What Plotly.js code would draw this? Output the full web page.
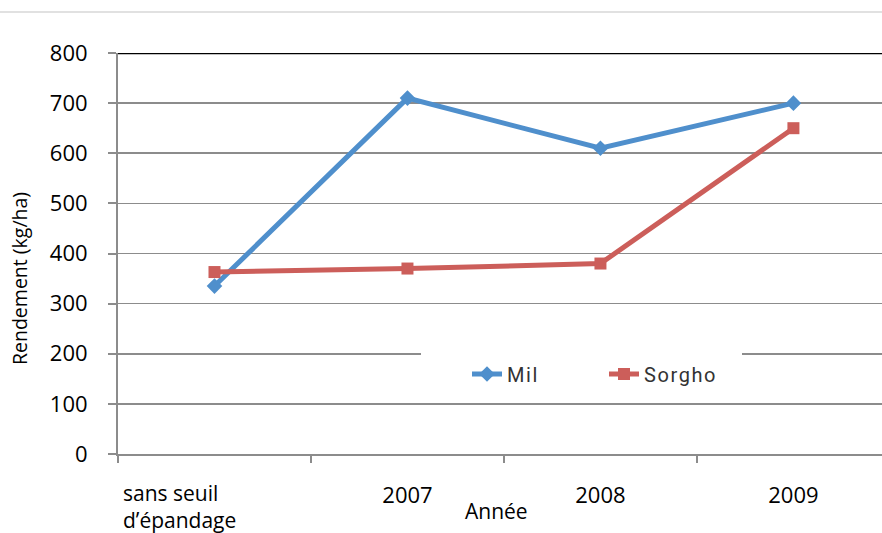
<!DOCTYPE html>
<html>
<head>
<meta charset="utf-8">
<script src="https://cdn.plot.ly/plotly-3.0.1.min.js"></script>
<style>
html,body{margin:0;padding:0;background:#fff;overflow:hidden;}
.legend .legendtext{letter-spacing:1.6px;}
</style>
</head>
<body>
<div id="chart" style="width:882px;height:533px;"></div>
<script>
const categories = ["sans seuil d’épandage", "2007", "2008", "2009"];
const tickLabels = ["", "2007", "2008", "2009"];
const firstLabel = "sans seuil<br>d’épandage";
const mil = [335, 710, 610, 700];
const sorgho = [363, 370, 380, 650];
const yTicks = [0, 100, 200, 300, 400, 500, 600, 700, 800];

const L = 118, T = 53, W = 764, H = 401;
const px = x => (x - L) / W;
const py = y => (T + H - y) / H;

const traces = [
  {x: categories, y: mil, name: "Mil", type: "scatter", mode: "lines+markers",
   line: {color: "#4f8fcc", width: 5}, marker: {symbol: "diamond", size: 12, color: "#4f8fcc"}},
  {x: categories, y: sorgho, name: "Sorgho", type: "scatter", mode: "lines+markers",
   line: {color: "#cc5e5a", width: 5}, marker: {symbol: "square", size: 12, color: "#cc5e5a"}}
];

const layout = {
  width: 882, height: 533,
  margin: {l: L, r: 0, t: T, b: 533 - T - H},
  paper_bgcolor: "#fff", plot_bgcolor: "#fff",
  font: {family: "Open Sans, sans-serif", color: "#000"},
  showlegend: true,
  legend: {orientation: "h", x: px(467), xanchor: "left", y: py(374), yanchor: "middle",
           bgcolor: "rgba(0,0,0,0)", borderwidth: 0, entrywidth: 92,
           font: {family: "Roboto, sans-serif", size: 20, color: "#333"}},
  xaxis: {type: "category", range: [-0.5, 3.459], tickmode: "array", tickvals: categories, ticktext: tickLabels,
          tickson: "boundaries", ticks: "outside", ticklen: 7, tickwidth: 2, tickcolor: "#8c8c8c",
          showline: true, linecolor: "#8c8c8c", linewidth: 2, showgrid: false, zeroline: false,
          ticklabelstandoff: 21, tickfont: {size: 22, color: "#000"}, fixedrange: true},
  yaxis: {range: [0, 800], tickvals: yTicks, ticks: "outside", ticklen: 8, tickwidth: 2, tickcolor: "#8c8c8c",
          showline: true, linecolor: "#8c8c8c", linewidth: 2, showgrid: true, gridcolor: "#8c8c8c", gridwidth: 1.6,
          zeroline: false, ticklabelstandoff: 16, tickfont: {size: 22, color: "#000"}, fixedrange: true},
  shapes: [
    {type: "rect", xref: "paper", yref: "paper", x0: px(421), x1: px(742), y0: py(398), y1: py(346),
     fillcolor: "#fff", line: {width: 0}, layer: "above"},
    {type: "line", xref: "paper", yref: "y", x0: 0, x1: 1, y0: 800, y1: 800,
     line: {color: "#000", width: 2.5}},
    {type: "line", xref: "paper", yref: "paper", x0: px(0), x1: 1, y0: py(12), y1: py(12),
     line: {color: "#c4c4c4", width: 1.2}}
  ],
  annotations: [
    {text: firstLabel, xref: "paper", yref: "paper", x: px(121), y: py(477), xanchor: "left", yanchor: "top",
     align: "left", showarrow: false, font: {size: 21, color: "#000"}},
    {text: "Année", xref: "paper", yref: "paper", x: px(496), y: py(511), xanchor: "center", yanchor: "middle",
     showarrow: false, font: {size: 21, color: "#000"}},
    {text: "Rendement (kg/ha)", xref: "paper", yref: "paper", x: px(19), y: py(278), xanchor: "center", yanchor: "middle",
     textangle: -90, showarrow: false, font: {size: 19.5, color: "#000"}}
  ]
};

Plotly.newPlot("chart", traces, layout, {displayModeBar: false, staticPlot: true});
</script>
</body>
</html>
